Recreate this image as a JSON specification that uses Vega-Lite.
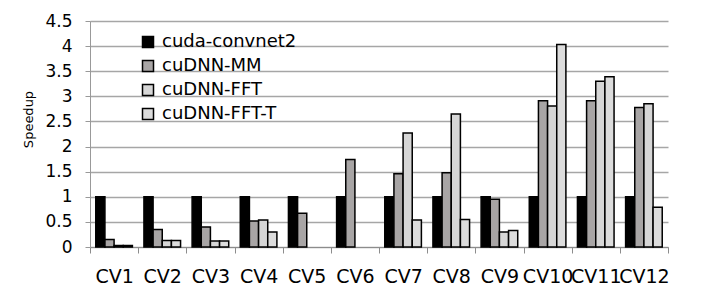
{
  "$schema": "https://vega.github.io/schema/vega-lite/v6.json",
  "width": 578,
  "height": 226,
  "autosize": {"type": "none"},
  "padding": {"left": 90, "top": 21, "right": 33, "bottom": 48},
  "background": "white",
  "config": {
    "view": {"stroke": null},
    "font": "DejaVu Sans"
  },
  "data": {
    "values": [
      {"cv": "CV1", "method": "cuda-convnet2", "speedup": 1},
      {"cv": "CV1", "method": "cuDNN-MM", "speedup": 0.15},
      {"cv": "CV1", "method": "cuDNN-FFT", "speedup": 0.03},
      {"cv": "CV1", "method": "cuDNN-FFT-T", "speedup": 0.03},
      {"cv": "CV2", "method": "cuda-convnet2", "speedup": 1},
      {"cv": "CV2", "method": "cuDNN-MM", "speedup": 0.35},
      {"cv": "CV2", "method": "cuDNN-FFT", "speedup": 0.13},
      {"cv": "CV2", "method": "cuDNN-FFT-T", "speedup": 0.13},
      {"cv": "CV3", "method": "cuda-convnet2", "speedup": 1},
      {"cv": "CV3", "method": "cuDNN-MM", "speedup": 0.40},
      {"cv": "CV3", "method": "cuDNN-FFT", "speedup": 0.12},
      {"cv": "CV3", "method": "cuDNN-FFT-T", "speedup": 0.12},
      {"cv": "CV4", "method": "cuda-convnet2", "speedup": 1},
      {"cv": "CV4", "method": "cuDNN-MM", "speedup": 0.52},
      {"cv": "CV4", "method": "cuDNN-FFT", "speedup": 0.54},
      {"cv": "CV4", "method": "cuDNN-FFT-T", "speedup": 0.30},
      {"cv": "CV5", "method": "cuda-convnet2", "speedup": 1},
      {"cv": "CV5", "method": "cuDNN-MM", "speedup": 0.67},
      {"cv": "CV6", "method": "cuda-convnet2", "speedup": 1},
      {"cv": "CV6", "method": "cuDNN-MM", "speedup": 1.74},
      {"cv": "CV7", "method": "cuda-convnet2", "speedup": 1},
      {"cv": "CV7", "method": "cuDNN-MM", "speedup": 1.46},
      {"cv": "CV7", "method": "cuDNN-FFT", "speedup": 2.27},
      {"cv": "CV7", "method": "cuDNN-FFT-T", "speedup": 0.54},
      {"cv": "CV8", "method": "cuda-convnet2", "speedup": 1},
      {"cv": "CV8", "method": "cuDNN-MM", "speedup": 1.48},
      {"cv": "CV8", "method": "cuDNN-FFT", "speedup": 2.65},
      {"cv": "CV8", "method": "cuDNN-FFT-T", "speedup": 0.55},
      {"cv": "CV9", "method": "cuda-convnet2", "speedup": 1},
      {"cv": "CV9", "method": "cuDNN-MM", "speedup": 0.95},
      {"cv": "CV9", "method": "cuDNN-FFT", "speedup": 0.30},
      {"cv": "CV9", "method": "cuDNN-FFT-T", "speedup": 0.33},
      {"cv": "CV10", "method": "cuda-convnet2", "speedup": 1},
      {"cv": "CV10", "method": "cuDNN-MM", "speedup": 2.91},
      {"cv": "CV10", "method": "cuDNN-FFT", "speedup": 2.81},
      {"cv": "CV10", "method": "cuDNN-FFT-T", "speedup": 4.03},
      {"cv": "CV11", "method": "cuda-convnet2", "speedup": 1},
      {"cv": "CV11", "method": "cuDNN-MM", "speedup": 2.91},
      {"cv": "CV11", "method": "cuDNN-FFT", "speedup": 3.30},
      {"cv": "CV11", "method": "cuDNN-FFT-T", "speedup": 3.39},
      {"cv": "CV12", "method": "cuda-convnet2", "speedup": 1},
      {"cv": "CV12", "method": "cuDNN-MM", "speedup": 2.78},
      {"cv": "CV12", "method": "cuDNN-FFT", "speedup": 2.85},
      {"cv": "CV12", "method": "cuDNN-FFT-T", "speedup": 0.79}
    ]
  },
  "mark": {"type": "bar", "stroke": "black", "strokeWidth": 1.5, "opacity": 1},
  "encoding": {
    "x": {
      "field": "cv",
      "type": "nominal",
      "sort": ["CV1","CV2","CV3","CV4","CV5","CV6","CV7","CV8","CV9","CV10","CV11","CV12"],
      "scale": {"paddingInner": 0, "paddingOuter": 0},
      "axis": {
        "title": null,
        "labelAngle": 0,
        "tickBand": "extent",
        "domainColor": "#8c8c8c",
        "domainWidth": 1,
        "tickColor": "#8c8c8c",
        "tickSize": 6,
        "labelPadding": 14,
        "labelFont": "DejaVu Sans",
        "labelFontSize": 19,
        "labelColor": "black",
        "grid": false
      }
    },
    "xOffset": {
      "field": "method",
      "type": "nominal",
      "sort": ["cuda-convnet2","cuDNN-MM","cuDNN-FFT","cuDNN-FFT-T"],
      "scale": {"paddingInner": 0, "paddingOuter": 0.63}
    },
    "y": {
      "field": "speedup",
      "type": "quantitative",
      "scale": {"domain": [0, 4.5], "nice": false},
      "axis": {
        "title": "Speedup",
        "values": [0, 0.5, 1, 1.5, 2, 2.5, 3, 3.5, 4, 4.5],
        "format": "~g",
        "grid": true,
        "gridColor": "#a6a6a6",
        "gridWidth": 1.3,
        "domainColor": "#999999",
        "tickColor": "#999999",
        "tickSize": 5,
        "labelPadding": 13,
        "labelFont": "DejaVu Sans",
        "labelFontSize": 17,
        "labelColor": "black",
        "titleFont": "DejaVu Sans",
        "titleFontSize": 13,
        "titleFontWeight": "normal",
        "titleColor": "#000000",
        "titleAngle": -90,
        "titleAlign": "center",
        "titleBaseline": "middle",
        "titleX": -62,
        "titleY": 98
      }
    },
    "color": {
      "field": "method",
      "type": "nominal",
      "scale": {
        "domain": ["cuda-convnet2","cuDNN-MM","cuDNN-FFT","cuDNN-FFT-T"],
        "range": ["#000000","#a8a5a5","#d6d6d6","#dcdcdc"]
      },
      "legend": {
        "title": null,
        "orient": "none",
        "legendX": 49,
        "legendY": 12,
        "padding": 0,
        "symbolType": "square",
        "symbolSize": 121,
        "symbolStrokeColor": "black",
        "symbolStrokeWidth": 1.5,
        "symbolOpacity": 1,
        "labelFont": "DejaVu Sans",
        "labelFontSize": 18,
        "labelColor": "black",
        "labelOffset": 5,
        "rowPadding": 6,
        "labelLimit": 300
      }
    }
  }
}
